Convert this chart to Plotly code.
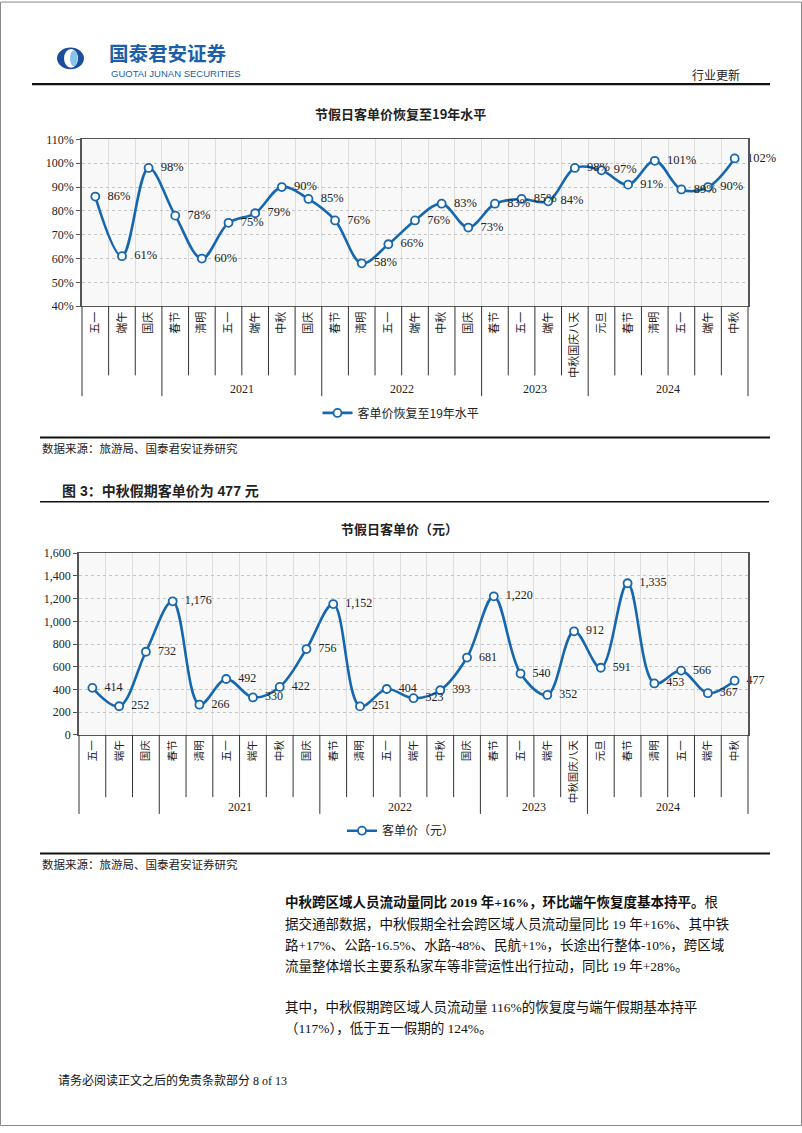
import plotly.graph_objects as go

W, H = 802, 1133


def px(x):
    return x / W


def py(y):
    return 1 - y / H


# ---------------- data ----------------
categories = ["五一", "端午", "国庆", "春节", "清明", "五一", "端午", "中秋", "国庆",
              "春节", "清明", "五一", "端午", "中秋", "国庆", "春节", "五一", "端午",
              "中秋国庆八天", "元旦", "春节", "清明", "五一", "端午", "中秋"]
year_labels = ["", "2021", "2022", "2023", "2024"]
year_sizes = [3, 6, 6, 4, 6]
recovery_pct = [86, 61, 98, 78, 60, 75, 79, 90, 85, 76, 58, 66, 76, 83, 73,
                83, 85, 84, 98, 97, 91, 101, 89, 90, 102]
price_yuan = [414, 252, 732, 1176, 266, 492, 330, 422, 756, 1152, 251, 404, 323,
              393, 681, 1220, 540, 352, 912, 591, 1335, 453, 566, 367, 477]

title1 = "节假日客单价恢复至19年水平"
title2 = "节假日客单价（元）"
series1 = "客单价恢复至19年水平"
series2 = "客单价（元）"
source = "数据来源：旅游局、国泰君安证券研究"
caption = "图 3：中秋假期客单价为 477 元"

BLUE = "#1667ad"
SERIF = "Liberation Serif, Noto Sans CJK SC"
SANS = "Noto Sans CJK SC"
NB = "\u00a0"
xs = list(range(len(categories)))

fig = go.Figure()

fig.add_trace(go.Scatter(
    x=xs, y=recovery_pct, name=series1, mode="lines+markers+text",
    line=dict(color=BLUE, width=2.6, shape="spline", smoothing=1.0),
    marker=dict(symbol="circle", size=8, color="white", line=dict(color=BLUE, width=1.8)),
    texttemplate=NB + NB + "%{y}", textposition="middle right",
    textfont=dict(family=SERIF, size=12.5, color="#222"),
    cliponaxis=False, xaxis="x", yaxis="y", legend="legend"))

fig.add_trace(go.Scatter(
    x=xs, y=price_yuan, name=series2, mode="lines+markers+text",
    line=dict(color=BLUE, width=2.6, shape="spline", smoothing=1.0),
    marker=dict(symbol="circle", size=8, color="white", line=dict(color=BLUE, width=1.8)),
    texttemplate=NB + NB + "%{y:,}", textposition="middle right",
    textfont=dict(family=SERIF, size=12, color="#222"),
    cliponaxis=False, xaxis="x2", yaxis="y2", legend="legend2"))

n = len(categories)
common_x = dict(
    range=[-0.5, n - 0.5], tickmode="array", tickvals=xs, ticktext=categories,
    tickangle=-90, showgrid=False, zeroline=False,
    minor=dict(tick0=0.5, dtick=1, showgrid=True, gridcolor="#dddddd", gridwidth=1, ticks=""),
    showline=True, linecolor="#555", linewidth=1.2, mirror=True, ticks="",
)
common_y = dict(
    showgrid=True, gridcolor="#c4c4c4", griddash="dot", gridwidth=1,
    zeroline=False, showline=True, linecolor="#555", linewidth=1.5, mirror=True,
    ticks="outside", ticklen=4, tickcolor="#555",
    tickfont=dict(family=SERIF, size=12, color="#222"),
)

fig.update_layout(
    width=W, height=H, margin=dict(l=0, r=0, t=0, b=0),
    paper_bgcolor="white", plot_bgcolor="#f8f8f8",
    xaxis=dict(domain=[px(82), px(748)], anchor="y",
               tickfont=dict(family=SANS, size=11, color="#222"), **common_x),
    yaxis=dict(domain=[py(303), py(134)], anchor="x", range=[40, 110], dtick=10,
               ticksuffix="%", **common_y),
    xaxis2=dict(domain=[px(79), px(748)], anchor="y2",
                tickfont=dict(family=SANS, size=10.5, color="#222"), **common_x),
    yaxis2=dict(domain=[py(737), py(553)], anchor="x2", range=[0, 1600], dtick=200,
                tickformat=",", **common_y),
    legend=dict(x=px(401), y=py(411), xanchor="center", yanchor="middle",
                orientation="h", font=dict(family=SANS, size=12, color="#222"),
                bgcolor="rgba(0,0,0,0)", itemwidth=30),
    legend2=dict(x=px(401), y=py(834), xanchor="center", yanchor="middle",
                 orientation="h", font=dict(family=SANS, size=12, color="#222"),
                 bgcolor="rgba(0,0,0,0)", itemwidth=30),
    showlegend=True,
)

shapes = []
annotations = []

# group separators and year labels for both charts
for xa, axis_top, short_end, long_end, year_y in [("x", 303, 373, 394, 387),
                                                   ("x2", 737, 800, 817, 810)]:
    bounds = [0]
    for s in year_sizes:
        bounds.append(bounds[-1] + s)
    for b in range(n + 1):
        end = long_end if b in bounds else short_end
        shapes.append(dict(type="line", xref=f"{xa} domain", yref="paper",
                           x0=b / n, x1=b / n, y0=py(axis_top), y1=py(end),
                           line=dict(color="#333", width=1)))
    for label, start, size in zip(year_labels, bounds[:-1], year_sizes):
        if label:
            annotations.append(dict(xref=xa, yref="paper", x=start + size / 2 - 0.5,
                                    y=py(year_y), text=label, showarrow=False,
                                    font=dict(family=SERIF, size=12, color="#222"),
                                    xanchor="center", yanchor="middle"))

# page frame
shapes.append(dict(type="rect", xref="paper", yref="paper", x0=px(0.5), x1=px(801.5),
                   y0=py(1132.5), y1=py(-5), line=dict(color="#8a8a8a", width=1)))
# rules
for y, x0, x1, w in [(78, 32, 770, 2.2), (501, 40, 769, 1.5), (436, 40, 770, 2), (857, 40, 770, 2)]:
    shapes.append(dict(type="line", xref="paper", yref="paper", x0=px(x0), x1=px(x1),
                       y0=py(y), y1=py(y), line=dict(color="#111", width=w)))

# logo
shapes.append(dict(type="circle", xref="paper", yref="paper", x0=px(57), x1=px(84),
                   y0=py(63), y1=py(41), fillcolor="#1b4f9c", line=dict(width=0)))
shapes.append(dict(type="circle", xref="paper", yref="paper", x0=px(64), x1=px(78),
                   y0=py(61.5), y1=py(42.5), fillcolor="white", line=dict(width=0)))
shapes.append(dict(type="circle", xref="paper", yref="paper", x0=px(70), x1=px(77.5),
                   y0=py(60), y1=py(44), fillcolor="#8cc3ec", line=dict(width=0)))


def text(x, y, s, size, family=SANS, color="#222", xanchor="left", bold=False, pad=1):
    annotations.append(dict(xref="paper", yref="paper", x=px(x), y=py(y),
                            text=f"<b>{s}</b>" if bold else s, showarrow=False,
                            xanchor=xanchor, yanchor="middle", borderpad=pad,
                            font=dict(family=family, size=size, color=color)))


text(108, 46.5, "国泰君安证券", 19.5, color="#1d5ea8", bold=True, pad=0)
text(110, 67, "GUOTAI JUNAN SECURITIES", 9.5, family="Liberation Sans", color="#1d5ea8", pad=0)
text(742, 68, "行业更新", 12, xanchor="right")

text(400, 108, title1, 13, xanchor="center", bold=True)
text(399, 528, title2, 13, xanchor="center", bold=True)

text(40, 447, source, 11.5)
text(40, 868, source, 11.5)
text(60, 490, caption, 14, family="Liberation Sans, Noto Sans CJK SC", bold=True)

body = [
    (906, "<b>中秋跨区域人员流动量同比 2019 年+16%，环比端午恢复度基本持平。</b>根"),
    (928, "据交通部数据，中秋假期全社会跨区域人员流动量同比 19 年+16%、其中铁"),
    (950, "路+17%、公路-16.5%、水路-48%、民航+1%，长途出行整体-10%，跨区域"),
    (971, "流量整体增长主要系私家车等非营运性出行拉动，同比 19 年+28%。"),
    (1013, "其中，中秋假期跨区域人员流动量 116%的恢复度与端午假期基本持平"),
    (1034, "（117%），低于五一假期的 124%。"),
]
for y, s in body:
    text(283, y, s, 13.5, family=SERIF, color="#111")

text(56, 1087, "请务必阅读正文之后的免责条款部分 8 of 13", 12, family=SERIF, color="#111")

fig.update_layout(shapes=shapes, annotations=annotations)
fig.write_html("out.html")
